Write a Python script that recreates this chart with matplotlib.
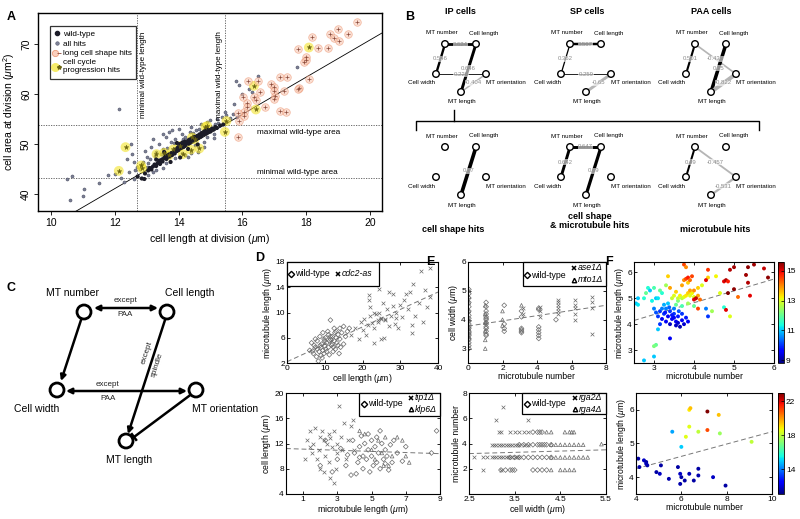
import numpy as np
import matplotlib
matplotlib.use("Agg")
import matplotlib.pyplot as plt
from matplotlib.lines import Line2D
from matplotlib.patches import Circle, Rectangle
from matplotlib.legend_handler import HandlerTuple

plt.rcParams['font.family'] = ['Liberation Sans', 'DejaVu Sans']
plt.rcParams['mathtext.fontset'] = 'custom'
plt.rcParams['mathtext.rm'] = 'Liberation Sans'
plt.rcParams['mathtext.it'] = 'Liberation Sans:italic'

# ---------------- panel A data (cell length, cell area) ----------------
A_WT = [(12.72,43.6),(12.85,43.2),(12.95,44.2),(13.05,44.8),(13.1,45.3),(13.15,45.0),(13.2,45.6),(13.25,46.0),
        (13.3,45.7),(13.35,46.3),(13.4,46.8),(13.42,46.1),(13.48,47.0),(13.5,46.6),(13.55,47.3),(13.6,47.8),
        (13.62,47.1),(13.65,47.5),(13.7,48.0),(13.72,47.6),(13.78,48.3),(13.8,47.9),(13.85,48.6),(13.88,48.2),
        (13.9,49.0),(13.95,48.7),(13.98,49.4),(14.0,48.9),(14.02,49.6),(14.05,50.1),(14.08,49.3),(14.1,49.8),
        (14.12,50.4),(14.15,49.5),(14.18,50.0),(14.2,50.6),(14.22,49.9),(14.25,50.3),(14.3,50.8),(14.32,50.2),
        (14.35,51.0),(14.38,50.5),(14.42,51.2),(14.45,50.8),(14.5,51.5),(14.55,51.0),(14.58,51.7),(14.62,51.3),
        (14.65,52.0),(14.7,51.6),(14.72,52.3),(14.75,51.9),(14.8,52.6),(14.82,52.1),(14.85,52.8),(14.88,52.3),
        (14.9,53.0),(14.92,52.5),(14.95,52.9),(15.0,52.6),(15.05,53.2),(15.1,53.0),(15.15,53.5),(15.2,53.3),
        (15.3,53.8),(15.4,54.0),(14.05,47.4),(13.55,48.5),(13.95,50.3),(14.3,49.1),(13.75,46.5),(14.6,50.0),
        (13.3,47.0),(12.93,43.1)]
A_HITS = [(10.5,43.0),(10.65,43.6),(10.6,38.9),(11.05,41.0),(11.0,39.6),(11.8,43.8),(12.15,57.0),(12.0,44.0),
          (12.2,43.2),(12.4,47.0),(12.45,44.5),(12.55,48.0),(12.5,50.0),(12.6,46.5),(12.65,44.8),(12.7,45.5),
          (12.9,46.5),(12.95,48.7),(13.0,47.5),(13.1,47.0),(13.15,49.5),(13.2,51.0),(13.3,48.5),(13.4,50.0),
          (13.5,49.0),(13.5,52.0),(13.6,51.5),(13.7,52.5),(13.75,50.5),(13.8,52.8),(13.9,51.0),(14.0,53.0),
          (14.1,52.0),(14.2,51.5),(14.35,52.5),(14.4,53.5),(14.5,49.8),(14.55,52.8),(14.6,48.5),(14.7,54.0),
          (14.8,50.5),(14.9,51.5),(15.0,54.8),(15.1,52.0),(15.2,55.0),(15.25,54.2),(15.35,55.5),(15.45,56.5),
          (15.5,55.8),(15.6,55.2),(15.7,56.0),(15.75,58.0),(15.8,62.7),(15.82,55.4),(15.9,61.8),(16.0,60.0),
          (16.2,61.0),(16.5,63.6),(16.3,60.5),(17.7,65.5),(13.5,45.2),(13.2,44.4),(13.0,45.5),(12.85,46.0),
          (14.2,47.8),(14.4,48.2),(13.6,46.2),(13.9,47.3),(14.8,49.5),(14.3,47.5),(12.8,45.0),(13.05,43.8),
          (15.1,51.2),(14.9,54.5),(14.1,48.2),(13.3,44.8),(12.6,43.0),(11.5,42.2),(12.3,42.5),(13.45,48.0),
          (13.65,49.3),(13.85,50.2),(14.15,51.1),(14.45,52.2),(14.65,53.0),(15.15,54.0),(13.25,47.6),(13.05,46.2)]
A_LONG = [(19.59,74.47),(18.99,73.0),(19.3,72.0),(18.75,72.07),(18.86,71.2),(19.02,70.73),(18.19,71.4),
          (17.73,69.13),(18.38,69.33),(18.67,69.33),(18.0,67.47),(17.94,66.4),(17.98,66.87),(18.09,63.07),
          (17.19,63.53),(17.4,63.53),(17.77,61.33),(16.9,62.0),(16.98,61.47),(17.0,60.67),(17.3,60.73),
          (17.03,59.73),(17.0,59.13),(16.5,62.6),(16.19,62.6),(16.02,59.4),(16.35,59.53),(16.54,60.47),
          (16.44,58.87),(16.15,58.2),(16.13,57.4),(16.7,57.4),(16.05,56.47),(16.05,55.67),(15.85,56.33),
          (15.88,54.73),(15.85,51.53),(17.17,56.73),(17.35,56.53),(17.75,61.1)]
A_CYCLE = [(18.08,69.4),(16.36,61.73),(16.42,57.0),(15.45,52.53),(15.5,54.7),(14.84,53.53),(12.34,49.47),
           (12.13,44.73),(12.83,45.8),(12.86,45.2),(13.31,48.07),(13.55,48.33),(13.69,47.8),(14.04,49.67),
           (14.13,48.07),(14.42,51.4),(14.5,51.0),(14.65,49.2),(14.38,48.99),(13.83,49.0),(14.9,53.7)]
A_FIT = (3.72, -3.476)          # slope, intercept
A_WT_LEN = (12.71, 15.47)       # min / max wild-type length
A_WT_AREA = (43.2, 53.8)        # min / max wild-type area

# ---------------- panel B data (correlation networks) ----------------
NET_IP = [("MT number", "Cell length", 0.624), ("MT number", "Cell width", 0.546),
          ("Cell length", "MT length", 0.646), ("Cell width", "MT orientation", 0.226),
          ("MT orientation", "MT length", -0.404)]
NET_SP = [("MT number", "Cell length", 0.567), ("MT number", "Cell width", 0.362),
          ("Cell width", "MT orientation", 0.259), ("MT orientation", "MT length", -0.65)]
NET_PAA = [("MT number", "Cell width", 0.501), ("MT number", "MT orientation", -0.433),
           ("Cell length", "MT length", 0.75), ("MT orientation", "MT length", -0.822)]
NET_SHAPE = [("Cell length", "MT length", 0.77)]
NET_BOTH = [("MT number", "Cell length", 0.647), ("MT number", "Cell width", 0.642),
            ("Cell length", "MT length", 0.69)]
NET_MT = [("MT number", "Cell width", 0.49), ("MT number", "MT orientation", -0.457),
          ("MT orientation", "MT length", -0.531)]

# ---------------- panel D data ----------------
D1_WT = [(6,4.0),(6.5,5.2),(7,3.5),(7.2,4.8),(7.5,5.8),(7.8,3.0),(8,4.2),(8,5.5),(8.3,2.3),(8.5,3.8),(8.7,6.2),
         (9,4.5),(9,3.2),(9.2,5.0),(9.5,6.8),(9.5,4.0),(9.8,3.5),(10,5.5),(10,4.7),(10.2,6.0),(10.5,3.8),(10.5,5.2),
         (10.8,7.0),(11,4.5),(11,6.5),(11.2,3.3),(11.5,5.8),(11.5,8.8),(11.8,4.8),(12,6.2),(12,5.0),(12.2,3.8),
         (12.5,7.5),(12.5,5.5),(12.8,4.2),(13,6.0),(13,7.0),(13.2,5.2),(13.5,4.8),(13.5,6.5),(13.8,3.5),(14,5.8),
         (14,7.5),(14.5,6.8),(15,5.0),(15,7.8),(15.5,6.2),(16,7.0),(16.5,7.5),(11.5,6.2),(10.3,4.2),(9.8,5.8),
         (8.8,4.8),(12.7,6.8),(7.5,4.5),(6.8,3.9),(14.2,4.5),(11.3,5.5),(9.3,2.8),(12.3,4.5)]
D1_CDC2 = [(17,6.5),(18,7.5),(19,5.8),(19.5,8.5),(20,7.2),(20.5,9.0),(21,6.5),(21.5,8.0),(21.8,12.8),(21.8,12.0),
           (22,10.8),(22,9.5),(22.5,8.3),(23,5.2),(23,7.5),(23.5,9.8),(24,8.5),(24.5,13.8),(24.5,10.0),(25,5.8),
           (25,9.0),(25.5,11.5),(25.8,6.0),(26,8.8),(26.5,10.5),(27,13.2),(27,7.8),(27.5,9.5),(28,12.9),(28,11.0),
           (28.5,8.2),(29,10.0),(29.5,7.5),(30,11.2),(30.5,9.3),(31,12.0),(31.5,12.9),(32,10.5),(32.5,13.2),
           (33,8.0),(33,6.8),(33.5,14.5),(34,9.5),(35,11.5),(35.5,16.5),(36,8.5),(36.5,13.5),(37,10.8),(38,17.0),
           (38,12.5),(26,9.0),(24.2,8.8),(23,10.0),(29,9.2),(25,9.2)]
D1_FIT = (0.276, 2.2)
D2_WT = [(2.0,8.5),(2.3,12.5),(2.7,7.5),(3.0,9.5),(3.2,11.2),(3.5,8.5),(3.8,7.0),(3.9,12.5),(4.0,10.5),(4.2,9.0),
         (4.3,11.5),(4.4,13.2),(4.5,8.0),(4.5,10.0),(4.6,12.0),(4.7,9.5),(4.8,11.0),(4.9,7.5),(5.0,12.5),
         (5.0,10.0),(5.1,8.5),(5.2,11.5),(5.3,9.0),(5.3,13.0),(5.4,10.5),(5.5,8.0),(5.6,12.0),(5.7,9.5),
         (5.8,11.0),(5.9,10.0),(6.0,7.8),(6.2,9.0),(6.3,12.5),(6.5,10.5),(6.8,9.2),(7.0,11.5),(8.8,14.0),
         (8.5,10.5),(4.1,7.2),(5.5,14.0),(4.8,13.5),(3.6,10.2),(5.8,8.8),(6.1,11.8),(4.3,9.8)]
D2_TIP1 = [(1.2,12.5),(1.4,11.5),(1.5,10.5),(1.6,12.0),(1.7,14.5),(1.8,9.5),(1.9,11.0),(2.0,13.0),(2.0,8.0),
           (2.1,14.0),(2.2,12.5),(2.3,10.0),(2.4,12.0),(2.5,13.5),(2.5,9.0),(2.6,6.5),(2.7,11.5),(2.8,14.0),
           (2.8,5.8),(2.9,8.0),(3.0,10.5),(3.1,18.0),(3.2,13.0),(3.3,11.0),(3.4,15.2),(3.5,9.5),(3.6,12.5),
           (3.8,14.8),(3.9,15.8),(1.1,9.5),(1.4,14.0),(2.2,7.5),(3.0,12.0),(4.0,11.0),(2.6,12.8)]
D2_KLP6 = [(4.3,14.0),(4.6,13.5),(5.0,11.0),(5.2,9.5),(5.4,12.5),(5.6,10.5),(5.8,13.0),(6.0,8.5),(6.2,10.0),
           (6.5,13.0),(6.8,12.5),(7.0,10.0),(7.2,9.0),(5.7,8.5)]
D2_FIT = (-0.09, 11.2)

# ---------------- panel E data ----------------
E1_WT = [(0.05,3.0),(0.05,3.1),(0.05,3.2),(0.05,3.3),(0.05,3.35),(0.05,3.45),(0.05,3.5),(0.05,3.55),(0.05,3.6),
         (0.05,3.7),(0.05,3.75),(0.05,3.85),(0.05,3.95),(0.05,4.05),(0.05,4.15),(0.05,4.3),(0.05,4.45),
         (0.05,4.6),(0.05,4.75),(0.05,4.9),(0.05,5.05),
         (1.05,3.45),(1.05,3.5),(1.05,3.6),(1.05,3.7),(1.05,3.75),(1.05,3.85),(1.05,3.9),(1.05,4.0),(1.05,4.05),
         (1.05,4.1),(1.05,4.2),(1.05,4.3),(1.05,4.45),(1.05,4.6),
         (2.1,3.6),(2.1,3.7),(2.1,3.85),(2.1,4.5),(3.1,3.55),(3.1,3.6),(3.1,3.65),(3.1,3.7),(3.1,4.1),(3.1,4.3),
         (4.1,3.35),(4.1,3.45),(4.1,3.55),(4.1,3.65),(4.1,3.75),(4.1,4.35),(4.1,4.4),(5.1,4.0)]
E1_ASE1 = [(5.2,4.2),(5.2,4.3),(5.2,4.4),(5.2,4.5),(5.2,4.6),(5.2,4.7),(6.2,4.0),(6.2,4.2),(6.2,4.4),(6.2,4.5),
           (6.2,4.7),(7.2,3.5),(7.2,4.4),(7.2,4.6),(7.2,4.8),(3.2,4.2),(3.2,4.4),(4.2,4.1),(4.2,4.3),(4.2,4.45)]
E1_MTO1 = [(0.05,3.4),(0.05,3.7),(0.05,4.0),(0.05,4.3),(0.05,4.6),(0.05,4.8),(0.05,5.0),(1.0,3.0),(1.0,3.3),
           (1.0,3.6),(1.0,3.9),(1.0,4.2),(1.0,4.5),(2.0,3.8),(2.0,4.0),(2.0,4.3),(3.1,4.5)]
E1_FIT = (0.09, 3.78)
E2_WT = [(3.2,1.9),(3.3,1.9),(3.4,1.9),(3.45,1.9),(3.5,1.9),(3.9,1.9),(4.0,1.9),(4.1,1.9),(4.2,1.9),
         (3.4,2.9),(3.5,2.9),(3.6,2.9),(3.7,2.9),(3.8,2.9),(3.9,2.9),(4.0,2.9),(4.1,2.9),(4.2,2.9),(4.3,2.9),
         (3.6,3.9),(3.7,3.9),(3.8,3.9),(3.9,3.9),(4.0,3.9),(4.05,3.9),(4.1,3.9),(4.15,3.9),(4.2,3.9),(4.3,3.9),
         (3.9,4.9),(4.0,4.9),(4.05,4.9),(4.1,4.9)]
E2_RGA2 = [(2.6,2.9),(2.8,2.9),(2.9,2.9),(3.0,2.9),(3.05,2.9),(3.1,2.9),(3.15,2.9),(3.2,2.9),(3.25,2.9),(3.3,2.9),
           (3.35,2.9),(3.4,2.9),(3.45,2.9),(3.5,2.9),(3.55,2.9),(3.6,2.9),
           (3.0,3.9),(3.05,3.9),(3.1,3.9),(3.15,3.9),(3.2,3.9),(3.25,3.9),(3.3,3.9),(3.35,3.9),(3.4,3.9),
           (3.45,3.9),(3.5,3.9),(3.55,3.9),(3.6,3.9),(3.7,3.9),(3.8,3.9),
           (3.15,4.9),(3.2,4.9),(3.4,4.9),(3.5,4.9),(3.6,4.9),(3.7,4.9),(3.8,4.9),
           (2.8,1.9),(3.2,1.9),(3.1,5.9),(3.8,5.9),(3.25,6.9)]
E2_RGA4 = [(4.3,1.9),(4.5,1.9),(4.6,1.9),(4.7,1.9),(4.8,1.9),(4.3,2.9),(4.4,2.9),(4.5,2.9),(4.6,2.9),(4.7,2.9),
           (4.8,2.9),(4.9,2.9),(5.0,2.9),(5.1,2.9),(4.3,3.9),(4.4,3.9),(4.5,3.9),(4.6,3.9),(4.7,3.9),(4.8,3.9),
           (4.9,3.9),(5.0,3.9),(5.4,3.95),(4.2,4.9),(4.3,4.9),(4.6,4.9),(4.7,4.9),(4.75,4.9),(4.8,4.9)]
E2_FIT = (0.1, 2.95)

# ---------------- panel F data (x, y, colour value) ----------------
F1_PTS = [(3.1,4.3,10),(3.15,4.5,10),(3.2,4.2,9.5),(3.25,4.4,10),(3.3,4.6,10.5),(3.3,4.1,9.5),(3.35,4.3,9.5),
          (3.4,4.5,10),(3.4,4.0,9.2),(3.45,4.2,9.5),(3.5,4.4,10),(3.5,4.6,10.5),(3.55,4.1,9.5),(3.55,3.95,9.2),
          (3.6,4.3,9.8),(3.6,4.05,9.3),(3.65,3.9,9.1),(3.7,4.15,9.5),(3.75,4.0,9.3),(3.2,4.6,10.5),(3.25,4.75,10.8),
          (3.35,4.8,11),(3.15,4.0,10),(3.05,4.45,10.2),(3.45,4.35,9.8),(3.5,4.25,9.5),(3.28,4.45,9.8),
          (3.38,4.65,10.3),(3.62,4.5,10.2),(3.7,4.4,10),(3.8,4.25,9.8),(3.85,4.1,9.5),(3.4,3.45,9.5),(3.0,4.6,10.5),
          (2.55,4.8,11),(2.6,4.75,11.2),(2.6,5.0,11),(2.75,5.0,11.5),(2.8,5.2,12),(2.85,5.4,11.5),(2.9,5.3,11),
          (3.0,5.4,11.8),(3.05,5.0,11),(3.15,5.3,12),(3.2,5.2,11.5),(3.1,5.0,11.2),(2.95,4.9,11.3),(3.1,3.8,11),
          (3.05,3.2,12.0),(3.0,3.15,12.2),(2.75,2.6,11),(3.0,2.75,11),(3.55,4.75,12),(3.6,4.9,12.2),(3.7,4.7,11.8),
          (3.85,4.8,12.5),(4.0,4.7,12),(4.3,4.6,10.5),(4.35,4.3,10),(4.75,4.65,11.5),
          (3.45,5.0,12.8),(3.5,5.1,13),(3.6,5.0,12.8),(3.65,5.1,13.2),(3.7,5.0,12.7),(3.75,5.05,13),(3.8,5.1,13.3),
          (3.85,5.2,13.5),(3.9,5.1,13),(3.95,5.2,13.2),(4.0,5.05,13),(3.55,5.25,13.5),(3.4,5.4,13.8),
          (3.35,5.85,13.5),(3.7,5.5,13.8),(3.75,5.7,14),(3.85,5.6,13.5),(3.9,5.3,13.8),(4.0,5.3,14),(4.1,5.4,13.5),
          (4.1,5.1,13.8),(4.15,4.95,14.2),(4.2,5.5,13),(4.35,5.8,13.5),(4.45,4.5,12.5),(4.9,4.3,13),(4.55,5.85,13.2),
          (4.65,5.2,13),(3.3,5.5,12.5),
          (3.8,5.75,14.5),(3.85,5.8,14.8),(3.9,5.7,14.2),(3.95,5.85,14.5),(3.75,6.3,14.5),(3.8,6.2,14),
          (4.0,4.95,15),(4.05,5.0,15.2),(4.1,4.6,14.5),(4.3,5.7,15),(4.75,5.65,15),(4.8,5.7,15.3),(4.85,5.65,14.8),
          (4.8,4.55,15),(4.9,6.1,15.3),(5.0,5.35,15.5),(4.85,5.2,15.6),(5.1,5.05,14.2),(5.3,5.9,15.4),
          (5.35,6.2,15.5),(5.35,5.6,15.3),(5.4,5.1,15),(5.5,6.3,15.4),(5.75,6.15,15.2),(5.85,5.8,15.5),
          (5.0,6.2,15.4),(4.35,6.1,14.6)]
F1_FIT = (0.457, 3.0)
F2_PTS = [(4.1,4.55,11.5),(4.15,4.3,11.5),(4.35,4.5,11.8),(4.45,4.45,11.5),(4.5,4.35,11.6),(4.45,4.4,11.7),
          (4.9,4.15,11.5),(5.05,4.1,11.8),(5.1,4.35,11.5),(5.45,3.95,11.6),(5.85,4.3,11.5),(5.95,4.1,11.8),
          (6.0,4.0,11.5),(5.95,3.8,11.6),(6.15,3.9,11.5),(6.35,4.1,11.7),(6.55,3.9,11.5),(6.75,4.05,11.6),
          (6.75,4.25,11.5),(7.4,4.0,11.8),(7.95,3.75,11.5),
          (5.6,5.35,14.5),(6.0,4.9,15),(6.2,5.2,18.5),(6.35,6.0,19),(6.4,6.05,19.5),(6.35,5.5,18.5),
          (6.75,5.35,18),(7.15,5.95,23),(7.15,5.4,21),(7.65,5.85,19.5),(7.7,5.3,17.5),(9.1,5.05,18)]
F2_FIT = (0.183, 3.52)

GRAY = "#6a6a6a"


def style_matlab(ax, xlim, ylim, xticks, yticks, xlabel, ylabel):
    ax.set_xlim(*xlim); ax.set_ylim(*ylim)
    ax.set_xticks(xticks); ax.set_yticks(yticks)
    ax.set_xticklabels([f"{t:g}" for t in xticks]); ax.set_yticklabels([f"{t:g}" for t in yticks])
    ax.tick_params(direction="in", length=2.5, width=0.6, labelsize=6, top=True, right=True, pad=1.5)
    for s in ax.spines.values():
        s.set_linewidth(0.8)
    ax.set_xlabel(xlabel, fontsize=6.2, labelpad=0)
    ax.set_ylabel(ylabel, fontsize=6.2, labelpad=1)


def fit_line(ax, fit, xlim):
    xs = np.array(xlim)
    ax.plot(xs, fit[0] * xs + fit[1], ls=(0, (5, 3)), color="#777777", lw=0.7, zorder=1)


def scatter_series(ax, pts, marker, size=7):
    p = np.array(pts)
    if marker == "x":
        ax.scatter(p[:, 0], p[:, 1], marker="x", s=size, c=GRAY, linewidths=0.5, zorder=2)
    else:
        ax.scatter(p[:, 0], p[:, 1], marker=marker, s=size, facecolors="none", edgecolors=GRAY,
                   linewidths=0.5, zorder=2)


def manual_legend(ov, box, items):
    x0, y0, x1, y1 = box
    ov.add_patch(Rectangle((x0, y0), x1 - x0, y1 - y0, fc="white", ec="black", lw=0.9, zorder=20))
    for mk, lab, x, y, ital in items:
        if mk == "x":
            ov.plot(x, y, marker="x", ms=3.2, mew=1.1, color="black", ls="none", zorder=21)
        else:
            ov.plot(x, y, marker=mk, ms=3.2, mew=1.0, mfc="white", mec="black", ls="none", zorder=21)
        ov.text(x + 4, y, lab, fontsize=6.3, va="center", ha="left",
                style="italic" if ital else "normal", zorder=21)


fig = plt.figure(figsize=(8, 5.19), dpi=100)


def px_axes(x0, y0, x1, y1):
    return fig.add_axes([x0 / 800, 1 - y1 / 519, (x1 - x0) / 800, (y1 - y0) / 519])


# ---------------- A ----------------
axA = px_axes(38, 13, 382, 211)
hits = np.array(A_HITS); wt = np.array(A_WT); lng = np.array(A_LONG); cyc = np.array(A_CYCLE)
axA.scatter(hits[:, 0], hits[:, 1], s=5, c="#7d8196", edgecolors="#3d4055", linewidths=0.3, zorder=2)
axA.scatter(cyc[:, 0], cyc[:, 1], s=50, c="#f3e32a", alpha=0.6, edgecolors="none", zorder=3)
axA.scatter(wt[:, 0], wt[:, 1], s=9, c="#1c1c28", edgecolors="none", zorder=4)
axA.scatter(lng[:, 0], lng[:, 1], s=30, c="#f8c4ad", alpha=0.55, edgecolors="#ea8a62", linewidths=0.5, zorder=3)
axA.scatter(lng[:, 0], lng[:, 1], s=8, marker="+", c="#8a4a3a", linewidths=0.5, zorder=5)
axA.scatter(cyc[:, 0], cyc[:, 1], s=12, marker="*", c="#6b6410", linewidths=0.3, zorder=5)
xs = np.array([9.6, 20.37])
axA.plot(xs, A_FIT[0] * xs + A_FIT[1], color="black", lw=0.6, zorder=1)
for v in A_WT_LEN:
    axA.axvline(v, color="#555555", lw=0.6, ls=(0, (1.5, 1.5)), zorder=0)
for v in A_WT_AREA:
    axA.axhline(v, color="#555555", lw=0.6, ls=(0, (1.5, 1.5)), zorder=0)
axA.set_xlim(9.6, 20.37); axA.set_ylim(36.7, 76.3)
axA.set_xticks([10, 12, 14, 16, 18, 20]); axA.set_yticks([40, 50, 60, 70])
axA.tick_params(direction="out", length=3, width=0.6, labelsize=7.5, pad=2)
for lab in axA.get_yticklabels():
    lab.set_rotation(90); lab.set_va("center")
for s in axA.spines.values():
    s.set_linewidth(1.0)
axA.set_xlabel(r"cell length at division ($\mathit{\mu}$m)", fontsize=7.5, labelpad=3)
axA.set_ylabel(r"cell area at division ($\mathit{\mu}$m$^2$)", fontsize=7.5, labelpad=3)
axA.text(12.9, 72.6, "minimal wild-type length", rotation=90, fontsize=5.9, ha="center", va="top")
axA.text(15.27, 72.6, "maximal wild-type length", rotation=90, fontsize=5.9, ha="center", va="top")
axA.text(16.45, 52.5, "maximal wild-type area", fontsize=5.9, ha="left", va="center")
axA.text(16.45, 44.4, "minimal wild-type area", fontsize=5.9, ha="left", va="center")
h_wt = Line2D([], [], marker="o", ls="none", ms=3, color="#1c1c28")
h_hit = Line2D([], [], marker="o", ls="none", ms=2.6, color="#7d8196", mec="#3d4055", mew=0.3)
h_long = (Line2D([], [], marker="o", ls="none", ms=4.5, mfc="#f8c4ad", mec="#ea8a62", mew=0.6, alpha=0.8),
          Line2D([], [], marker="_", ls="none", ms=3, color="#8a4a3a", mew=0.6))
h_cyc = (Line2D([], [], marker="o", ls="none", ms=6.5, mfc="#f3e32a", mec="none", alpha=0.7),
         Line2D([], [], marker="*", ls="none", ms=3, color="#6b6410"))
legA = axA.legend([h_wt, h_hit, h_long, h_cyc],
                  ["wild-type", "all hits", "long cell shape hits", "cell cycle\nprogression hits"],
                  loc="upper left", bbox_to_anchor=(0.022, 0.955), fontsize=5.9, frameon=True,
                  fancybox=False, edgecolor="black", handlelength=0.8, handletextpad=0.35,
                  borderpad=0.5, labelspacing=0.25, handler_map={tuple: HandlerTuple(ndivide=None, pad=0)})
legA.get_frame().set_linewidth(0.9)

# ---------------- D ----------------
axD1 = px_axes(287, 262, 438, 363)
scatter_series(axD1, D1_WT, "D", 6)
scatter_series(axD1, D1_CDC2, "x", 7)
fit_line(axD1, D1_FIT, (0, 40))
style_matlab(axD1, (0, 40), (2, 18), [0, 10, 20, 30, 40], [2, 6, 10, 14, 18],
             r"cell length ($\mathit{\mu}$m)", r"microtubule length ($\mathit{\mu}$m)")

axD2 = px_axes(286, 393, 440, 494)
scatter_series(axD2, D2_WT, "D", 6)
scatter_series(axD2, D2_TIP1, "x", 7)
scatter_series(axD2, D2_KLP6, "^", 7)
fit_line(axD2, D2_FIT, (0, 9))
style_matlab(axD2, (0, 9), (4, 20), [1, 3, 5, 7, 9], [4, 8, 12, 16, 20],
             r"microtubule length ($\mathit{\mu}$m)", r"cell length ($\mathit{\mu}$m)")

# ---------------- E ----------------
axE1 = px_axes(468, 262, 606, 363)
scatter_series(axE1, E1_WT, "D", 6)
scatter_series(axE1, E1_ASE1, "x", 7)
scatter_series(axE1, E1_MTO1, "^", 7)
fit_line(axE1, E1_FIT, (0, 8))
style_matlab(axE1, (0, 8), (2.5, 6), [0, 2, 4, 6, 8], [3, 4, 5, 6],
             "microtubule number", r"cell width ($\mathit{\mu}$m)")

axE2 = px_axes(469, 393, 606, 494)
scatter_series(axE2, E2_WT, "D", 6)
scatter_series(axE2, E2_RGA2, "x", 7)
scatter_series(axE2, E2_RGA4, "^", 7)
fit_line(axE2, E2_FIT, (2.5, 5.5))
style_matlab(axE2, (2.5, 5.5), (0, 8), [2.5, 3.5, 4.5, 5.5], [2, 4, 6, 8],
             r"cell width ($\mathit{\mu}$m)", "microtubule number")

# ---------------- F ----------------
axF1 = px_axes(634, 262, 774, 363)
f1 = np.array(F1_PTS)
sc1 = axF1.scatter(f1[:, 0], f1[:, 1], c=f1[:, 2], cmap="jet", vmin=8.8, vmax=15.6, s=8,
                   edgecolors="none", zorder=2)
fit_line(axF1, F1_FIT, (2.5, 6))
style_matlab(axF1, (2.5, 6), (2.5, 6.4), [3, 4, 5, 6], [3, 4, 5, 6],
             "microtubule number", r"microtubule length ($\mathit{\mu}$m)")
cax1 = px_axes(778, 262, 784, 363)
cb1 = fig.colorbar(sc1, cax=cax1, ticks=[9, 11, 13, 15])

axF2 = px_axes(636, 393, 772, 494)
f2 = np.array(F2_PTS)
sc2 = axF2.scatter(f2[:, 0], f2[:, 1], c=f2[:, 2], cmap="jet", vmin=11.1, vmax=23, s=8,
                   edgecolors="none", zorder=2)
fit_line(axF2, F2_FIT, (4, 10))
style_matlab(axF2, (4, 10), (3.5, 6.5), [4, 6, 8, 10], [4, 5, 6],
             "microtubule number", r"microtubule length ($\mathit{\mu}$m)")
cax2 = px_axes(778, 393, 784, 494)
cb2 = fig.colorbar(sc2, cax=cax2, ticks=[14, 18, 22])
for cb in (cb1, cb2):
    cb.ax.tick_params(labelsize=6, length=2, width=0.5, direction="in", pad=1.5)
    cb.outline.set_linewidth(0.6)

# ---------------- overlay: B, C, labels, legends ----------------
ov = fig.add_axes([0, 0, 1, 1], zorder=10)
ov.set_xlim(0, 800); ov.set_ylim(519, 0); ov.axis("off")
ov.patch.set_visible(False)

for lab, (x, y) in {"A": (11, 17), "B": (410, 17), "C": (11, 288), "D": (260, 258),
                    "E": (430, 262), "F": (609, 262)}.items():
    ov.text(x, y, lab, fontsize=9, fontweight="bold", ha="center", va="center")

NODES = {"MT number": (445, 44), "Cell length": (476, 44), "Cell width": (436, 74),
         "MT orientation": (486, 74), "MT length": (461, 92)}
LAB_OFF = {"MT number": (-3, -11), "Cell length": (8, -11), "Cell width": (-14, 9),
           "MT orientation": (20, 9), "MT length": (1, 10)}


def draw_net(dx, dy, edges):
    pos = {k: (v[0] + dx, v[1] + dy) for k, v in NODES.items()}
    for a, b, r in edges:
        (xa, ya), (xb, yb) = pos[a], pos[b]
        col = "black" if r > 0 else "#b5b5b5"
        ov.plot([xa, xb], [ya, yb], color=col, lw=max(0.6, 4.2 * abs(r) - 0.6),
                solid_capstyle="butt", zorder=3)
        ov.text((xa + xb) / 2, (ya + yb) / 2, f"{r:g}", fontsize=4.3, color="#8a8a8a", ha="center",
                va="center", zorder=4, bbox=dict(fc="white", ec="none", pad=0.1, alpha=0.6))
    for k, (x, y) in pos.items():
        ov.add_patch(Circle((x, y), 3.3, fc="white", ec="black", lw=1.0, zorder=5))
        ox, oy = LAB_OFF[k]
        ov.text(x + ox, y + oy, k, fontsize=4.5, ha="center", va="center", zorder=5)


for (dx, dy), net in zip([(0, 0), (125, 0), (250, 0), (0, 103), (125, 103), (250, 103)],
                         [NET_IP, NET_SP, NET_PAA, NET_SHAPE, NET_BOTH, NET_MT]):
    draw_net(dx, dy, net)
for x, t in [(460, "IP cells"), (587, "SP cells"), (711, "PAA cells")]:
    ov.text(x, 12, t, fontsize=6.5, fontweight="bold", ha="center", va="center")
ov.text(453, 229, "cell shape hits", fontsize=6.5, fontweight="bold", ha="center", va="center")
ov.text(590, 221, "cell shape\n& microtubule hits", fontsize=6.5, fontweight="bold", ha="center",
        va="center", linespacing=1.0)
ov.text(715, 229, "microtubule hits", fontsize=6.5, fontweight="bold", ha="center", va="center")
ov.plot([454, 454], [110, 121], color="black", lw=1.0)
ov.plot([416, 416, 759, 759], [130, 121, 121, 130], color="black", lw=1.0)

# C: causal diagram
CN = {"MT number": (84, 312), "Cell length": (167, 312), "Cell width": (57, 390),
      "MT orientation": (196, 390), "MT length": (126, 441)}
for k, (x, y) in CN.items():
    ov.add_patch(Circle((x, y), 7, fc="white", ec="black", lw=2, zorder=5))
ov.text(72, 293, "MT number", fontsize=7.5, ha="center", va="center")
ov.text(190, 293, "Cell length", fontsize=7.5, ha="center", va="center")
ov.text(37, 409, "Cell width", fontsize=7.5, ha="center", va="center")
ov.text(192, 409, "MT orientation", fontsize=7.5, ha="left", va="center")
ov.text(129, 460, "MT length", fontsize=7.5, ha="center", va="center")


def arrow(p0, p1, style):
    ov.annotate("", xy=p1, xytext=p0, arrowprops=dict(arrowstyle=style, lw=1.8, color="black",
                mutation_scale=8, shrinkA=0, shrinkB=0), zorder=4)


arrow((94, 308), (158, 308), "<|-|>")
arrow((81, 320), (61, 381), "-|>")
arrow((66, 391), (187, 391), "<|-|>")
arrow((165, 320), (128, 434), "-|>")
p0, p1 = np.array([189.0, 396.0]), np.array([134.0, 437.0])
ov.plot([p0[0], p1[0]], [p0[1], p1[1]], color="black", lw=1.8, zorder=4)
d = (p1 - p0) / np.linalg.norm(p1 - p0)
nrm = np.array([-d[1], d[0]]) * 3.5
ov.plot([p1[0] - nrm[0], p1[0] + nrm[0]], [p1[1] - nrm[1], p1[1] + nrm[1]], color="black", lw=1.8)
for x, y, t in [(125, 301, "except"), (125, 315, "PAA"), (108, 384, "except"), (108, 398, "PAA")]:
    ov.text(x, y, t, fontsize=5.8, ha="center", va="center", color="#222222")
ov.text(150, 354, "except", fontsize=5.8, rotation=72, ha="center", va="bottom",
        rotation_mode="anchor", color="#222222")
ov.text(154, 364, "spindle", fontsize=5.8, rotation=72, ha="center", va="top",
        rotation_mode="anchor", color="#222222")

# legends for D and E
manual_legend(ov, (287, 262, 379, 286), [("D", "wild-type", 291, 274, False),
                                          ("x", "cdc2-as", 338, 274, True)])
manual_legend(ov, (359, 393, 440, 416), [("D", "wild-type", 364, 404, False),
                                          ("x", "tip1Δ", 411, 398, True),
                                          ("^", "klp6Δ", 411, 409, True)])
manual_legend(ov, (523, 262, 606, 286), [("D", "wild-type", 527, 275, False),
                                          ("x", "ase1Δ", 574, 268, True),
                                          ("^", "mto1Δ", 574, 280, True)])
manual_legend(ov, (522, 393, 606, 414), [("D", "wild-type", 527, 404, False),
                                          ("x", "rga2Δ", 575, 398, True),
                                          ("^", "rga4Δ", 575, 409, True)])

fig.savefig("out.png", dpi=100)
